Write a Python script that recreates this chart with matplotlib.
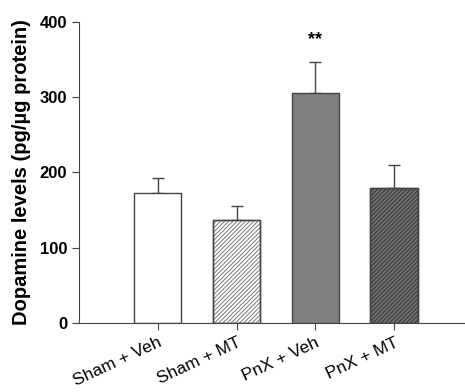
import matplotlib.pyplot as plt

plt.rcParams['font.family'] = ['Liberation Sans', 'DejaVu Sans']
plt.rcParams['hatch.linewidth'] = 0.7

groups = ['Sham + Veh', 'Sham + MT', 'PnX + Veh', 'PnX + MT']
means = [173, 137, 305, 180]
sem = [20, 18, 42, 30]
fills = ['white', 'white', '#808080', '#707070']
hatches = [None, '////////', None, '////////']
hatch_colors = ['#555555', '#777777', '#333333', '#333333']

fig = plt.figure(figsize=(4.65, 3.92), dpi=100)
ax = fig.add_axes([0.17, 0.176, 0.83, 0.768])

x = list(range(len(groups)))
for i in x:
    ax.bar(i, means[i], width=0.6, color=fills[i], edgecolor='#444444',
           linewidth=1.0, zorder=2)
    if hatches[i]:
        # hatch in its own colour, then the outline on top
        ax.bar(i, means[i], width=0.6, color='none', edgecolor=hatch_colors[i],
               linewidth=0, hatch=hatches[i], zorder=3)
        ax.bar(i, means[i], width=0.6, color='none', edgecolor='#444444',
               linewidth=1.0, zorder=4)
ax.errorbar(x, means, yerr=[[0] * len(sem), sem], fmt='none', ecolor='#444444',
            elinewidth=1.0, capsize=4, capthick=1.0, zorder=1)

ax.text(2, 365, '**', ha='center', va='bottom', fontsize=13, fontweight='bold')

ax.set_xlim(-1, 3.9)
ax.set_ylim(0, 400)
ax.set_yticks([0, 100, 200, 300, 400])
ax.set_xticks(x)
ax.set_xticklabels(groups, rotation=25, ha='right', rotation_mode='anchor',
                   fontsize=12.5)
for lab in ax.get_yticklabels():
    lab.set_fontweight('bold')
    lab.set_fontsize(12)
ax.set_ylabel('Dopamine levels (pg/µg protein)', fontsize=14.5, fontweight='bold',
              labelpad=6)

ax.spines['top'].set_visible(False)
ax.spines['right'].set_visible(False)
for s in ['left', 'bottom']:
    ax.spines[s].set_color('#444444')
ax.tick_params(direction='out', length=5, color='#444444')

fig.savefig('out.png', dpi=100)
